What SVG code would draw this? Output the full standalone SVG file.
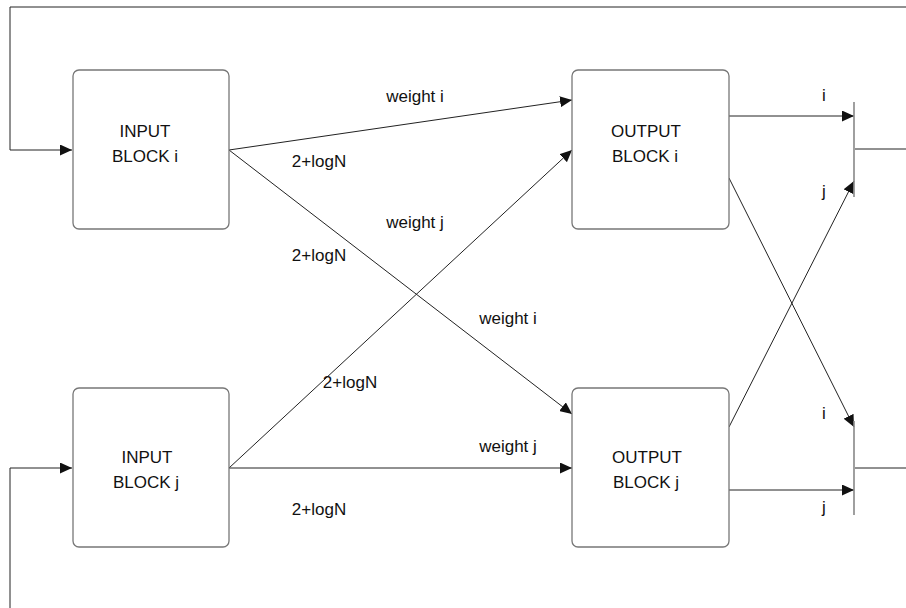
<svg xmlns="http://www.w3.org/2000/svg" width="906" height="608" viewBox="0 0 906 608">
<style>
.box{fill:#fff;stroke:#777;stroke-width:1.3}
.c{fill:none;stroke:#222;stroke-width:1}
.bar{fill:none;stroke:#888;stroke-width:1.6}
text{font-family:"Liberation Sans",Arial,sans-serif;font-size:17px;fill:#111}
.m{text-anchor:middle}
</style>
<defs>
<marker id="ah" viewBox="0 0 12 11" refX="12" refY="5.5" markerWidth="12" markerHeight="11" markerUnits="userSpaceOnUse" orient="auto">
<path d="M0,0 L12,5.5 L0,11 z" fill="#111"/>
</marker>
</defs>
<rect width="906" height="608" fill="#fff"/>
<g id="connectors">
<polyline class="c" points="906,7 10,7 10,150 72,150" marker-end="url(#ah)"/>
<polyline class="c" points="10,608 10,468 72,468" marker-end="url(#ah)"/>
<line class="c" x1="229" y1="150" x2="572" y2="100" marker-end="url(#ah)"/>
<line class="c" x1="229" y1="150" x2="572" y2="414" marker-end="url(#ah)"/>
<line class="c" x1="229" y1="468" x2="572" y2="150" marker-end="url(#ah)"/>
<line class="c" x1="229" y1="468" x2="572" y2="468" marker-end="url(#ah)"/>
<line class="c" x1="729" y1="116" x2="854" y2="116" marker-end="url(#ah)"/>
<line class="c" x1="729" y1="178" x2="854" y2="427" marker-end="url(#ah)"/>
<line class="c" x1="729" y1="427" x2="854" y2="181" marker-end="url(#ah)"/>
<line class="c" x1="729" y1="490" x2="854" y2="490" marker-end="url(#ah)"/>
<line class="c" x1="855" y1="149" x2="906" y2="149"/>
<line class="c" x1="855" y1="468" x2="906" y2="468"/>
</g>
<g id="bar-i"><line class="bar" x1="854" y1="102" x2="854" y2="197"/></g>
<g id="bar-j"><line class="bar" x1="854" y1="421" x2="854" y2="515"/></g>
<g id="input-i">
<rect class="box" x="73" y="70" width="156" height="159" rx="6"/>
<text class="m" x="145" y="137">INPUT</text>
<text class="m" x="145" y="162">BLOCK i</text>
</g>
<g id="input-j">
<rect class="box" x="73" y="388" width="156" height="159" rx="6"/>
<text class="m" x="147" y="463">INPUT</text>
<text class="m" x="146" y="488">BLOCK j</text>
</g>
<g id="output-i">
<rect class="box" x="572" y="70" width="157" height="159" rx="6"/>
<text class="m" x="646" y="137">OUTPUT</text>
<text class="m" x="645" y="162">BLOCK i</text>
</g>
<g id="output-j">
<rect class="box" x="572" y="388" width="157" height="159" rx="6"/>
<text class="m" x="647" y="463">OUTPUT</text>
<text class="m" x="646" y="488">BLOCK j</text>
</g>
<g id="labels">
<text class="m" x="415" y="102">weight i</text>
<text class="m" x="319" y="167">2+logN</text>
<text class="m" x="415" y="228">weight j</text>
<text class="m" x="319" y="261">2+logN</text>
<text class="m" x="508" y="324">weight i</text>
<text class="m" x="350" y="388">2+logN</text>
<text class="m" x="508" y="452">weight j</text>
<text class="m" x="319" y="515">2+logN</text>
<text class="m" x="824" y="101">i</text>
<text class="m" x="824" y="197">j</text>
<text class="m" x="824" y="419">i</text>
<text class="m" x="824" y="513">j</text>
</g>
</svg>
